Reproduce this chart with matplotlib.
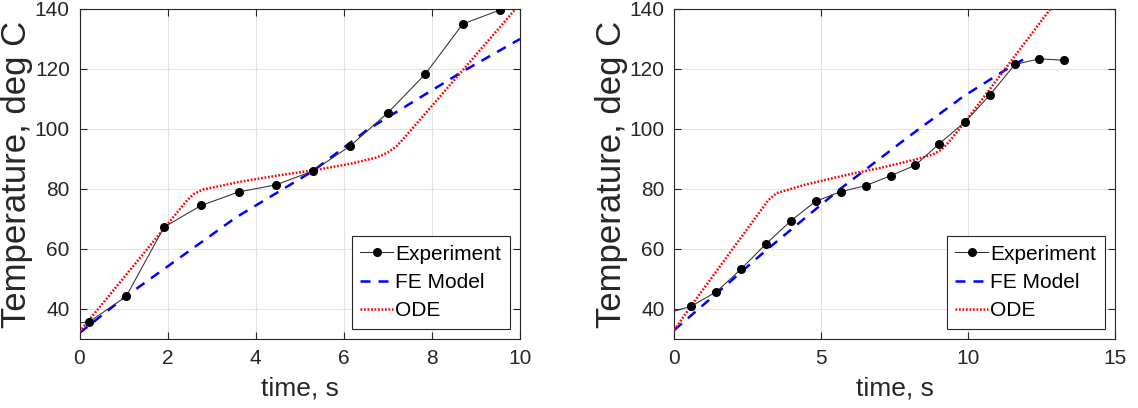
import matplotlib
matplotlib.use("Agg")
import matplotlib.pyplot as plt

# ---------------- data ----------------
# Left panel
exp1_t = [-0.63, 0.21, 1.06, 1.92, 2.76, 3.61, 4.46, 5.30, 6.14, 7.00, 7.85, 8.70, 9.55]
exp1_T = [34.8, 35.6, 44.2, 67.3, 74.5, 79.0, 81.4, 86.0, 94.3, 105.4, 118.3, 135.0, 139.7]
fe1_t = [0.0, 1.06, 3.55, 5.30, 6.53, 8.69, 10.0]
fe1_T = [32.0, 44.3, 70.5, 86.0, 99.7, 119.1, 130.0]
ode1_t = [0.0, 2.44, 2.60, 2.80, 3.60, 4.50, 5.30, 6.15, 6.75, 7.00, 7.20, 7.40, 9.90, 10.2]
ode1_T = [32.4, 76.2, 78.4, 79.8, 82.3, 84.5, 86.2, 88.4, 90.5, 92.2, 94.3, 97.5, 140.0, 145.0]

# Right panel
exp2_t = [-0.28, 0.57, 1.43, 2.27, 3.11, 3.97, 4.81, 5.66, 6.51, 7.36, 8.20, 9.02, 9.89,
          10.73, 11.59, 12.43, 13.28]
exp2_T = [38.5, 40.9, 45.7, 53.3, 61.6, 69.4, 75.9, 79.1, 81.1, 84.4, 87.9, 95.1, 102.3,
          111.2, 121.5, 123.4, 122.9]
fe2_t = [0.0, 1.44, 3.14, 5.63, 7.90, 9.83, 11.53, 12.04]
fe2_T = [33.0, 45.2, 59.7, 79.9, 96.9, 110.8, 121.3, 124.0]
ode2_t = [0.0, 0.57, 3.20, 3.48, 4.40, 6.00, 7.00, 8.20, 8.80, 9.10, 9.40, 9.90, 12.8, 13.2]
ode2_T = [33.0, 41.0, 76.3, 78.6, 81.3, 85.0, 87.0, 89.8, 91.5, 93.2, 96.3, 102.4, 140.0, 145.0]

yticks = [40, 60, 80, 100, 120, 140]
xticks1 = [0, 2, 4, 6, 8, 10]
xticks2 = [0, 5, 10, 15]
labels = ["Experiment", "FE Model", "ODE"]
xlabel_text = "time, s"
ylabel_text = "Temperature, deg C"

# ---------------- style ----------------
plt.rcParams['font.family'] = ['Liberation Sans', 'DejaVu Sans']
axcol = '#262626'

fig = plt.figure(figsize=(11.38, 4.08), dpi=100)
ax1 = fig.add_axes([79.5 / 1138, 69 / 408, 440.5 / 1138, 330 / 408])
ax2 = fig.add_axes([674.3 / 1138, 69 / 408, 440.7 / 1138, 330 / 408])

panels = [
    (ax1, exp1_t, exp1_T, fe1_t, fe1_T, ode1_t, ode1_T, xticks1, (0, 10)),
    (ax2, exp2_t, exp2_T, fe2_t, fe2_T, ode2_t, ode2_T, xticks2, (0, 15)),
]

for ax, et, eT, ft, fT, ot, oT, xt, xl in panels:
    ax.plot(et, eT, '-o', color='#303030', lw=0.75, ms=5.5, mfc='black', mec='black',
            label=labels[0], zorder=4)
    ax.plot(ft, fT, '--', color='#0000ff', lw=1.8, dashes=(4, 3.2), label=labels[1], zorder=3)
    ax.plot(ot, oT, ':', color='#ff0000', lw=1.8, dashes=(0.7, 0.7), label=labels[2], zorder=3)
    ax.set_xlim(*xl)
    ax.set_ylim(30, 140)
    ax.set_xticks(xt)
    ax.set_yticks(yticks)
    ax.grid(True, color='#e3e3e3', lw=0.8)
    ax.set_axisbelow(True)
    for s in ax.spines.values():
        s.set_color(axcol)
        s.set_linewidth(0.8)
    ax.tick_params(direction='in', length=5, width=0.8, colors=axcol, labelsize=15,
                   top=True, right=True, pad=7)
    for lab in ax.get_xticklabels() + ax.get_yticklabels():
        lab.set_color(axcol)
    ax.set_xlabel(xlabel_text, fontsize=19, color=axcol, labelpad=6)
    ax.set_ylabel(ylabel_text, fontsize=25, color=axcol, labelpad=1)
    leg = ax.legend(loc='lower right', fontsize=15, frameon=True, fancybox=False,
                    edgecolor=axcol, framealpha=1, borderpad=0.4, labelspacing=0.45,
                    handlelength=1.6, handletextpad=0.1, borderaxespad=0.5)
    leg.get_frame().set_linewidth(0.8)

fig.savefig('out.png', dpi=100)
